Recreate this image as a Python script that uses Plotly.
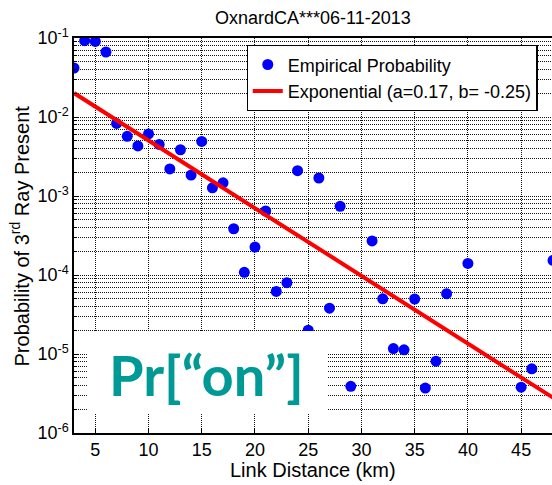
import plotly.graph_objects as go

# Empirical probability of the 3rd ray being present vs link distance
link_km = [3, 4, 5, 6, 7, 8, 9, 10, 11, 12, 13, 14, 15, 16, 17, 18, 19, 20, 21, 22,
           23, 24, 25, 26, 27, 28, 29, 31, 32, 33, 34, 35, 36, 37, 38, 40, 45, 46, 48]
prob = [0.0417, 0.0925, 0.0906, 0.0665, 0.0083, 0.0057, 0.0043, 0.0061, 0.0045, 0.0022,
        0.00385, 0.00184, 0.0049, 0.00127, 0.00147, 0.000385, 0.000108, 0.000226, 0.000646, 6.2e-5,
        8.0e-5, 0.00209, 2.0e-5, 0.00169, 3.8e-5, 0.00074, 3.9e-6, 0.00027, 5.0e-5, 1.17e-5,
        1.13e-5, 4.97e-5, 3.7e-6, 8.1e-6, 5.8e-5, 1.4e-4, 3.8e-6, 6.5e-6, 1.53e-4]

# Exponential fit line
fit_km = [3, 25, 48]
fit_prob = [0.0201, 2.65e-4, 2.8e-6]

x_ticks = [5, 10, 15, 20, 25, 30, 35, 40, 45]
y_tickvals = [1e-6, 1e-5, 1e-4, 1e-3, 1e-2, 1e-1]
y_ticktext = ["10<sup>-6</sup>", "10<sup>-5</sup>", "10<sup>-4</sup>",
              "10<sup>-3</sup>", "10<sup>-2</sup>", "10<sup>-1</sup>"]

FONT = "Liberation Sans, Arial, sans-serif"
GRID = "#111111"
DASH = "1px,1px"

fig = go.Figure()
fig.add_trace(go.Scatter(
    x=link_km, y=prob, mode="markers", name="Empirical Probability",
    marker=dict(color="#0000FF", size=11, line=dict(width=0)),
))
fig.add_trace(go.Scatter(
    x=fit_km, y=fit_prob, mode="lines", name="Exponential (a=0.17, b= -0.25)",
    line=dict(color="#FF0000", width=4),
))

fig.update_layout(
    width=552, height=485,
    margin=dict(l=74, r=0, t=38, b=52),
    paper_bgcolor="white", plot_bgcolor="white",
    font=dict(family=FONT, size=18, color="black"),
    showlegend=True,
    legend=dict(
        x=0.361, y=0.982, xanchor="left", yanchor="top",
        bgcolor="white", bordercolor="black", borderwidth=1.2,
        font=dict(size=18, family=FONT), tracegroupgap=0,
    ),
    xaxis=dict(
        range=[3, 47.9], tickvals=x_ticks, ticks="inside", ticklen=5,
        tickcolor="black", showline=True, linecolor="black", linewidth=1.5,
        mirror=True, showgrid=True, gridcolor=GRID, griddash=DASH, gridwidth=1,
        zeroline=False, tickfont=dict(size=18), automargin=False,
    ),
    yaxis=dict(
        type="log", range=[-6, -1], tickvals=y_tickvals, ticktext=y_ticktext,
        ticks="inside", ticklen=5, tickcolor="black",
        showline=True, linecolor="black", linewidth=1.5, mirror=False,
        showgrid=True, gridcolor=GRID, griddash=DASH, gridwidth=1,
        zeroline=False, tickfont=dict(size=18), automargin=False,
        minor=dict(dtick="D1", showgrid=True, gridcolor=GRID, griddash=DASH,
                   gridwidth=1, ticks="inside", ticklen=3, tickcolor="black"),
    ),
    shapes=[dict(type="rect", xref="paper", yref="paper",
                 x0=0.027, x1=0.531, y0=0.0506, y1=0.258,
                 fillcolor="white", line=dict(width=0), layer="above")],
    annotations=[
        dict(text="OxnardCA***06-11-2013", xref="paper", yref="paper",
             x=0.5, y=1.0, yshift=20, xanchor="center", yanchor="middle",
             showarrow=False, font=dict(size=18, family=FONT)),
        dict(text="Link Distance (km)", xref="paper", yref="paper",
             x=0.5, y=-0.0937, xanchor="center", yanchor="middle",
             showarrow=False, font=dict(size=20, family=FONT)),
        dict(text="Probability of 3<sup>rd</sup> Ray Present", xref="paper", yref="paper",
             x=-0.113, y=0.50, xanchor="center", yanchor="middle", textangle=-90,
             showarrow=False, font=dict(size=20, family=FONT)),
        dict(text="Pr[\u201con\u201d]", xref="paper", yref="paper",
             x=0.277, y=0.147, xanchor="center", yanchor="middle",
             showarrow=False, font=dict(size=56, family="Lato, Open Sans, sans-serif",
                                        color="#009A96", weight="bold")),
    ],
)

fig.write_html("out.html", config={"displayModeBar": False},
               post_script="document.body.style.margin='0';document.body.style.padding='0';")
